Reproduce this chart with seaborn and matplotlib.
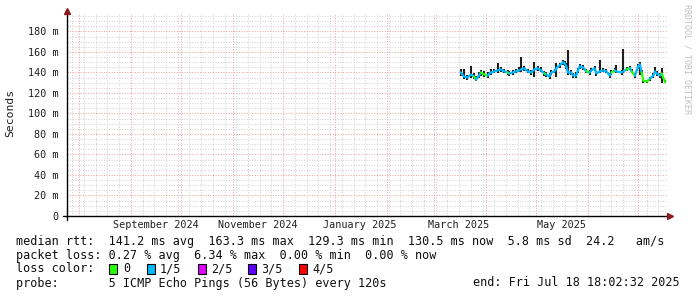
import matplotlib
matplotlib.use("Agg")
import matplotlib.pyplot as plt
import matplotlib.dates as mdates
from matplotlib.ticker import FixedLocator, MultipleLocator, NullFormatter
from matplotlib.patches import Rectangle
from matplotlib.lines import Line2D
import pandas as pd
import seaborn as sns

# ---------------- data ----------------
dates = ["2025-03-17", "2025-03-19", "2025-03-21", "2025-03-23", "2025-03-25", "2025-03-26",
         "2025-03-28", "2025-03-29", "2025-03-31", "2025-04-02", "2025-04-04", "2025-04-06",
         "2025-04-08", "2025-04-10", "2025-04-12", "2025-04-14", "2025-04-15", "2025-04-17",
         "2025-04-19", "2025-04-21", "2025-04-22", "2025-04-24", "2025-04-26", "2025-04-28",
         "2025-04-30", "2025-05-02", "2025-05-04", "2025-05-06", "2025-05-07", "2025-05-09",
         "2025-05-10", "2025-05-12", "2025-05-13", "2025-05-15", "2025-05-17", "2025-05-18",
         "2025-05-19", "2025-05-20", "2025-05-22", "2025-05-23", "2025-05-25", "2025-05-26",
         "2025-05-27", "2025-05-29", "2025-05-31", "2025-06-02", "2025-06-03", "2025-06-05",
         "2025-06-06", "2025-06-08", "2025-06-10", "2025-06-12", "2025-06-14", "2025-06-15",
         "2025-06-17", "2025-06-18", "2025-06-21", "2025-06-22", "2025-06-24", "2025-06-26",
         "2025-06-27", "2025-06-29", "2025-07-01", "2025-07-02", "2025-07-03", "2025-07-04",
         "2025-07-06", "2025-07-08", "2025-07-10", "2025-07-11", "2025-07-12", "2025-07-14",
         "2025-07-15", "2025-07-17"]
rtt_median = [140, 136, 135, 138, 136, 133, 137, 140, 138, 137, 140, 141,
              142, 143, 141, 140, 139, 140, 141, 142, 143, 144, 141, 140,
              143, 144, 142, 139, 138, 136, 140, 141, 144, 147, 150, 149,
              146, 140, 140, 137, 137, 142, 146, 145, 141, 140, 142, 144,
              139, 141, 142, 141, 137, 140, 142, 141, 140, 141, 143, 144,
              141, 137, 146, 148, 140, 132, 131, 134, 137, 141, 139, 137,
              139, 130.5]
smoke_hi = [143, 143, 138, 146, 139, 137, 140, 142, 141, 140, 143, 143,
            149, 145, 143, 142, 141, 142, 143, 145, 155, 146, 143, 142,
            150, 146, 145, 141, 140, 139, 142, 143, 149, 149, 152, 151,
            149, 162, 142, 139, 140, 144, 148, 147, 143, 142, 144, 146,
            141, 152, 144, 143, 139, 142, 144, 147, 142, 163.3, 145, 146,
            143, 139, 148, 150, 142, 134, 133, 136, 139, 145, 141, 139,
            144, 133]
smoke_lo = [137, 134, 133, 135, 134, 132, 135, 137, 136, 135, 138, 139,
            139, 140, 139, 138, 137, 138, 139, 140, 140, 141, 139, 138,
            136, 141, 140, 137, 136, 134, 138, 139, 136, 144, 147, 146,
            143, 138, 138, 135, 135, 139, 143, 142, 139, 138, 140, 141,
            137, 139, 140, 139, 135, 138, 140, 139, 138, 139, 141, 142,
            139, 135, 143, 138, 137, 130, 130, 132, 135, 139, 137, 135,
            129.3, 129.5]
loss_level = [1, 1, 1, 1, 1, 0, 1, 1, 0, 0, 1, 1,
              1, 1, 1, 1, 0, 1, 1, 1, 1, 1, 1, 1,
              1, 1, 1, 1, 0, 1, 1, 1, 1, 1, 1, 1,
              1, 1, 1, 1, 1, 1, 1, 1, 1, 0, 1, 1,
              1, 1, 1, 1, 1, 1, 0, 1, 1, 1, 1, 0,
              1, 0, 1, 1, 1, 0, 0, 0, 1, 1, 1, 1,
              1, 0]

y_ticks = [0, 20, 40, 60, 80, 100, 120, 140, 160, 180]
y_tick_labels = ["0", "20 m", "40 m", "60 m", "80 m", "100 m", "120 m", "140 m", "160 m", "180 m"]
x_label_dates = ["2024-09-16", "2024-11-16", "2025-01-16", "2025-03-16", "2025-05-16"]
x_label_texts = ["September 2024", "November 2024", "January 2025", "March 2025", "May 2025"]
loss_names = ["0", "1/5", "2/5", "3/5", "4/5"]
loss_colors = ["#26ff00", "#00b8ff", "#dd00ff", "#5e00ff", "#ff0000"]

legend_rtt = "median rtt:  141.2 ms avg  163.3 ms max  129.3 ms min  130.5 ms now  5.8 ms sd  24.2   am/s"
legend_loss = "packet loss: 0.27 % avg  6.34 % max  0.00 % min  0.00 % now"
legend_probe = "probe:       5 ICMP Echo Pings (56 Bytes) every 120s"
legend_end = "end: Fri Jul 18 18:02:32 2025"

# ---------------- figure ----------------
W, H = 697, 297
sns.set_style("white")
plt.rcParams["font.family"] = ["DejaVu Sans Mono"]

fig = plt.figure(figsize=(W / 100, H / 100), dpi=100)
fig.patch.set_facecolor("white")
L, R, T, B = 67, 668, 13, 216
ax = fig.add_axes([L / W, 1 - B / H, (R - L) / W, (B - T) / H])

df = pd.DataFrame({
    "date": pd.to_datetime(dates),
    "rtt": rtt_median,
    "hi": smoke_hi,
    "lo": smoke_lo,
    "loss": loss_level,
})

ax.set_xlim(pd.Timestamp("2024-07-24 22:00"), pd.Timestamp("2025-07-18 18:02:32"))
ax.set_ylim(0, 198)

# grid
ax.xaxis.set_major_locator(mdates.MonthLocator())
ax.xaxis.set_minor_locator(mdates.WeekdayLocator(byweekday=mdates.SU))
ax.xaxis.set_major_formatter(NullFormatter())
ax.xaxis.set_minor_formatter(NullFormatter())
ax.yaxis.set_major_locator(FixedLocator(y_ticks))
ax.yaxis.set_minor_locator(MultipleLocator(5))
ax.set_yticklabels(y_tick_labels)
ax.grid(which="minor", color="#d2d2d2", lw=0.72, ls=(0, (1, 1.6)))
ax.grid(which="major", color="#eaa2a2", lw=0.72, ls=(0, (1, 1.6)))
ax.set_axisbelow(True)

ax.tick_params(axis="x", which="major", length=2, width=0.7, color="#e08080", pad=0)
ax.tick_params(axis="x", which="minor", length=0)
ax.tick_params(axis="y", which="major", length=3, width=0.7, color="#404040",
               labelsize=7.3, pad=3)
ax.tick_params(axis="y", which="minor", length=0)
for lab in ax.get_yticklabels():
    lab.set_color("#202020")

for s in ["top", "right"]:
    ax.spines[s].set_visible(False)
for s in ["left", "bottom"]:
    ax.spines[s].set_color("#000000")
    ax.spines[s].set_linewidth(1.0)

# smoke
ax.vlines(df["date"], df["lo"], df["hi"], colors="#1e1e1e", lw=1.5, zorder=2)

# median line coloured by loss
runs = []
start = 0
for i in range(1, len(df)):
    if loss_level[i] != loss_level[start]:
        runs.append((start, i - 1))
        start = i
runs.append((start, len(df) - 1))
for a, b in runs:
    seg = df.iloc[max(a - 1, 0):b + 1]
    sns.lineplot(data=seg, x="date", y="rtt", color=loss_colors[loss_level[a]],
                 lw=1.6, ax=ax, zorder=3, estimator=None, sort=False)

ax.set_xlabel("")
ax.set_ylabel("")

# x labels (month names)
xt = ax.get_xaxis_transform()
for d, t in zip(x_label_dates, x_label_texts):
    ax.text(pd.Timestamp(d), -(225 - B) / (B - T), t, transform=xt, ha="center",
            va="center", fontsize=7.3, color="#202020")

# axis arrows
ax.plot([1.004], [0], marker=">", ms=4.5, color="#8b1a1a", transform=ax.transAxes,
        clip_on=False, zorder=5)
ax.plot([0], [1.012], marker="^", ms=4.5, color="#8b1a1a", transform=ax.transAxes,
        clip_on=False, zorder=5)
fig.add_artist(Line2D([63 / W, L / W], [1 - B / H, 1 - B / H], color="black", lw=1.0))
fig.add_artist(Line2D([L / W, L / W], [1 - B / H, 1 - 220 / H], color="black", lw=1.0))

# y axis title
fig.text(10 / W, 1 - 113 / H, "Seconds", rotation=90, ha="center", va="center",
         fontsize=8.2, color="#202020")

# watermark
fig.text(687 / W, 1 - 4 / H, "RRDTOOL / TOBI OETIKER", rotation=270, ha="center",
         va="top", fontsize=6.0, color="#c0c0c0")

# legend texts
fs = 8.5
fig.text(16 / W, 1 - 241 / H, legend_rtt, ha="left", va="center", fontsize=fs, color="#101010")
fig.text(16 / W, 1 - 255 / H, legend_loss, ha="left", va="center", fontsize=fs, color="#101010")
fig.text(16 / W, 1 - 269 / H, "loss color:", ha="left", va="center", fontsize=fs, color="#101010")
box_x = [109, 147, 198, 248, 299]
txt_x = [123, 160, 211, 261, 312]
for bx, tx, name, col in zip(box_x, txt_x, loss_names, loss_colors):
    fig.add_artist(Rectangle((bx / W, 1 - 274 / H), 8 / W, 10 / H, facecolor=col,
                             edgecolor="black", lw=0.8, transform=fig.transFigure))
    fig.text(tx / W, 1 - 269 / H, name, ha="left", va="center", fontsize=fs, color="#101010")
fig.text(16 / W, 1 - 283 / H, legend_probe, ha="left", va="center", fontsize=fs, color="#101010")
fig.text(680 / W, 1 - 283 / H, legend_end, ha="right", va="center", fontsize=fs, color="#101010")

fig.savefig("out.png", dpi=100, facecolor="white")
